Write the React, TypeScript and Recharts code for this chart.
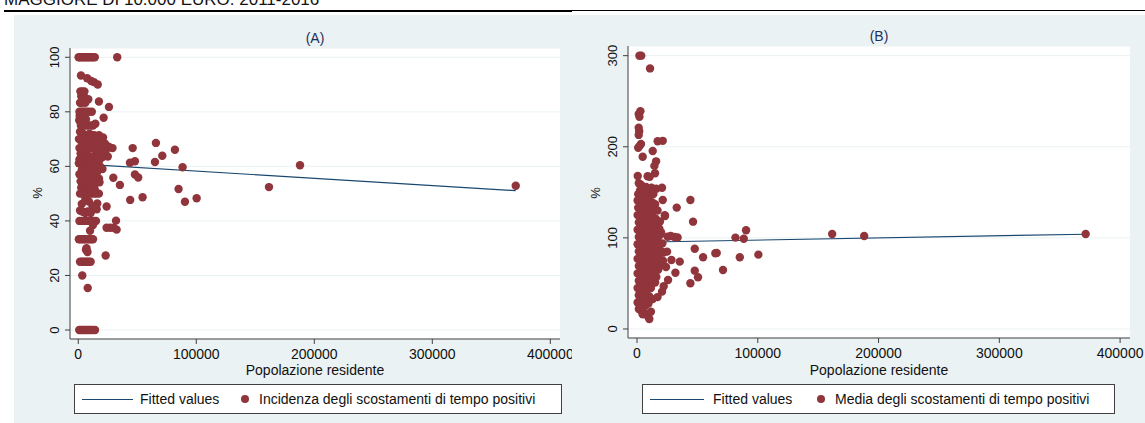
import React from 'react';
import { ScatterChart, Scatter, XAxis, YAxis, CartesianGrid } from 'recharts';

// ---- data ----
const popTicks = [0, 100000, 200000, 300000, 400000];
const ticksA = [0, 20, 40, 60, 80, 100];
const ticksB = [0, 100, 200, 300];

// fitted regression lines [popolazione, valore]
const fitA: [number, number][] = [[300, 60.9], [370700, 51.1]];
const fitB: [number, number][] = [[300, 95.2], [371500, 104.0]];

// (A) incidenza degli scostamenti di tempo positivi
const pointsA: [number, number][] = [
  [300, 100], [1500, 100], [2800, 100], [4200, 100], [5600, 100], [7000, 100], [8400, 100], [9800, 100], [11200, 100], [12600, 100], [14000, 100], [33000, 100],
  [2300, 93.3], [7500, 92.3], [11000, 91.3], [13200, 90.9], [16500, 90],
  [1800, 87.5], [3500, 87.5], [5200, 87.5], [2500, 85.7], [4800, 85.7],
  [1500, 83.3], [3200, 83.3], [6000, 83.3], [8500, 84.6], [17500, 83.8], [26000, 81.8],
  [1000, 80], [2500, 80], [4000, 80], [5500, 80], [7000, 80], [9000, 80], [11500, 80],
  [21500, 77.8], [1200, 78.6], [3000, 77.8], [6500, 77.3], [800, 76.9], [2200, 75], [4200, 75], [6200, 75], [8200, 75], [10500, 75], [12500, 75], [14500, 75.6],
  [1500, 72.7], [3500, 72.2], [5500, 71.4], [7500, 71.4], [9500, 72], [11500, 71.4], [13500, 71.4], [15500, 70.6], [17500, 71.4], [19500, 70], [21000, 70.6], [600, 70],
  [2500, 69.2], [4500, 68.8], [6500, 68.4], [8500, 69], [10500, 68.2], [12500, 69.2], [14500, 68.4], [16500, 67.9], [18500, 68.8], [20500, 68], [22500, 68.4], [24500, 67.5], [26500, 67], [29000, 66.7],
  [1000, 66.7], [3000, 66.7], [5000, 66.7], [7000, 66.7], [9000, 66.7], [11000, 66.7], [13000, 66.7], [15000, 66.7], [17000, 66.7], [23000, 65.5],
  [46100, 66.7], [65800, 68.6], [81900, 66.1], [71200, 63.9], [48000, 61.9], [43800, 61.3], [65000, 61.6], [88400, 59.7], [187900, 60.4],
  [2000, 64.7], [4000, 64.3], [6000, 64.3], [8000, 64], [10000, 63.6], [12000, 63.2], [14000, 64], [16000, 63.6], [18000, 64.5], [20000, 63.2], [25000, 63.6],
  [1000, 62.5], [3500, 62.5], [5500, 62.5], [7500, 62.5], [9500, 62.5], [11500, 62], [13500, 62.5], [15500, 62.5], [17500, 62],
  [500, 61.1], [2000, 61], [4500, 60], [6500, 60], [8500, 60], [10500, 60], [12500, 60.9], [14500, 60], [16500, 59.4], [18500, 60], [20500, 59],
  [3000, 58.8], [5500, 58.3], [7500, 58.3], [9500, 58.8], [11500, 57.9], [13500, 57.1], [16000, 57.9],
  [1000, 57.1], [3000, 56.3], [5000, 55.6], [7000, 55.6], [9000, 55.6], [11000, 56], [13000, 55], [15000, 54.5], [17500, 55.6],
  [48000, 57], [50800, 55.9], [29700, 55.8], [35300, 53.2],
  [2000, 54.5], [4000, 54.5], [6000, 53.8], [8000, 53.3], [10000, 53.3], [12000, 52.9], [14500, 53.8], [18000, 54.2],
  [85000, 51.7], [161600, 52.4], [370700, 52.9],
  [2500, 52.2], [5000, 51.7], [7500, 51.9], [11000, 52.6], [14000, 51.5],
  [1500, 50], [3500, 50], [5500, 50], [7500, 50], [9500, 50], [11500, 50], [13500, 50], [15500, 50], [17500, 50],
  [54500, 48.7], [44000, 47.7], [90400, 47], [100300, 48.3],
  [6000, 48], [16100, 46.4], [24000, 45.3], [3000, 46.2], [9000, 47.1], [12000, 45.5],
  [15600, 44.3], [1500, 43.8], [3000, 43.5], [4500, 43.3], [6000, 42.9], [8000, 43.5], [10500, 42.9],
  [1000, 40], [3000, 40], [5000, 40], [7000, 40], [9000, 40], [11000, 40], [13000, 40], [15000, 40], [32000, 40.1],
  [24000, 37.5], [27000, 37.5], [30000, 37.5], [32500, 36.8], [10000, 36.4], [12500, 38.5],
  [500, 33.3], [2000, 33.3], [3500, 33.3], [5000, 33.3], [6500, 33.3], [8000, 33.3], [9500, 33.3], [11000, 33.3], [12500, 33.3],
  [7000, 30], [7800, 28.6], [6500, 29.4], [23200, 27.3],
  [1500, 25], [3000, 25], [4500, 25], [6000, 25], [7500, 25], [9000, 25], [10500, 25],
  [3400, 20], [8000, 15.4],
  [800, 0], [2200, 0], [3600, 0], [5000, 0], [6400, 0], [7800, 0], [9200, 0], [10600, 0], [12000, 0], [14200, 0],
];

// (B) media degli scostamenti di tempo positivi
const pointsB: [number, number][] = [
  [2000, 300], [3500, 300], [10800, 286], [2800, 239], [1400, 236], [2000, 233], [1400, 221], [1800, 217], [1400, 213],
  [17100, 206], [21300, 206.5], [3300, 203], [1000, 199], [2200, 201], [13000, 195.4], [4700, 189], [15800, 184], [14400, 179], [14900, 171],
  [600, 168], [8800, 167.6], [10500, 167],
  [1500, 160], [3500, 158], [5000, 155], [7500, 156], [9500, 154], [12000, 155], [14000, 153], [16000, 154], [2500, 152], [20700, 155],
  [44200, 141.6], [21300, 141.6], [32900, 133.2], [23200, 124], [46400, 117.8], [18500, 110], [23000, 125],
  [1000, 148], [3000, 147], [5500, 149], [8000, 146], [11000, 147], [13500, 148],
  [500, 141], [2000, 139], [4000, 142], [6000, 138], [8500, 140], [10500, 141], [12500, 139], [15000, 137],
  [1000, 133], [3000, 131], [5000, 134], [7000, 130], [9000, 132], [11500, 133], [14000, 131], [17000, 130],
  [500, 125], [2500, 123], [4500, 126], [6500, 124], [9000, 122], [11000, 125], [13000, 123], [15500, 121],
  [1500, 117], [3500, 115], [5500, 118], [7500, 114], [10000, 116], [12000, 117], [14500, 115], [19000, 118],
  [500, 109], [2500, 107], [4500, 110], [7000, 106], [9000, 108], [11500, 109], [13500, 107], [16000, 105], [20000, 106],
  [1500, 101], [3500, 99], [5500, 102], [7500, 98], [10000, 100], [12000, 101], [14000, 99], [17000, 97], [19000, 103],
  [25400, 101.3], [28000, 102], [31000, 101], [33600, 100.5], [81500, 100.3], [88400, 99], [90300, 108.3],
  [161600, 104.3], [188100, 102], [371500, 104.3],
  [500, 93], [2500, 91], [4500, 94], [6500, 90], [9000, 92], [11000, 93], [13000, 91], [15500, 89], [18000, 92], [21000, 94],
  [1500, 85], [3500, 83], [5500, 86], [7500, 82], [10000, 84], [12000, 85], [14500, 83], [17000, 81], [19500, 86], [22000, 84], [24900, 84.9],
  [47800, 88.1], [64900, 83.1], [66000, 83.5], [100500, 81.6],
  [500, 77], [2500, 75], [4500, 78], [6500, 74], [9000, 76], [11000, 77], [13500, 75], [16000, 73], [18500, 77], [21500, 75],
  [28500, 75.7], [35400, 73.9], [54700, 78.7], [85100, 78.7],
  [1500, 69], [3500, 67], [5500, 70], [7500, 66], [10000, 68], [12000, 69], [14500, 67], [17500, 65], [20000, 70], [24000, 68],
  [500, 61], [2500, 59], [4500, 62], [6500, 58], [9000, 60], [11000, 61], [13500, 59], [16000, 57], [31800, 61.8],
  [47800, 64], [71200, 64.8], [50500, 56.7],
  [1500, 53], [3500, 51], [5500, 54], [7500, 50], [10000, 52], [12500, 53], [15000, 51], [25700, 53.8], [44200, 50.2],
  [500, 45], [2500, 43], [4500, 46], [6500, 42], [9000, 44], [11500, 45], [22100, 47], [20700, 41],
  [1500, 37], [3500, 35], [5500, 38], [7500, 34], [10000, 36], [13000, 32.8], [17000, 35],
  [500, 29], [2500, 27], [4500, 30], [7000, 26], [9500, 28],
  [1500, 22], [3500, 20], [6000, 18], [4700, 16], [10200, 11], [9000, 14], [11500, 19],
];

// ---- styling ----
const H = 423;
const BG = '#EAF2F3';
const MAROON = '#90353B';
const NAVY = '#1A476F';
const AXIS = '#404040';
const FONT = '"Liberation Sans", Arial, Helvetica, sans-serif';
const XAXIS_H = 40;
const YAXIS_W = 40;

const toRows = (pts: [number, number][]) => pts.map(([pop, val]) => ({ pop, val }));

const Dot = (props: any) => <circle cx={props.cx} cy={props.cy} r={4.2} fill={MAROON} />;
const NoDot = () => <g />;

const makeYTick = (baseX: number) => (props: any) => {
  const { y, payload } = props;
  return (
    <text
      x={baseX}
      y={y}
      transform={`rotate(-90 ${baseX} ${y})`}
      textAnchor="middle"
      fontSize={13}
      fontFamily={FONT}
      fill="#111"
    >
      {payload.value}
    </text>
  );
};

interface PanelProps {
  chartLeft: number;
  chartWidth: number;
  plot: { left: number; right: number; top: number; bottom: number };
  xDomain: [number, number];
  yDomain: [number, number];
  yTicks: number[];
  points: [number, number][];
  fit: [number, number][];
}

const Panel: React.FC<PanelProps> = ({ chartLeft, chartWidth, plot, xDomain, yDomain, yTicks, points, fit }) => {
  const margin = {
    top: plot.top,
    bottom: H - plot.bottom - XAXIS_H,
    left: plot.left - chartLeft - YAXIS_W,
    right: chartLeft + chartWidth - plot.right,
  };
  return (
    <div style={{ position: 'absolute', left: chartLeft, top: 0 }}>
      <ScatterChart width={chartWidth} height={H} margin={margin}>
        <CartesianGrid horizontal vertical={false} stroke={BG} fill="#ffffff" />
        <XAxis
          type="number"
          dataKey="pop"
          domain={xDomain}
          ticks={popTicks}
          allowDataOverflow
          interval={0}
          height={XAXIS_H}
          tickSize={5}
          tickMargin={5}
          stroke={AXIS}
          tick={{ fontSize: 14, fill: '#111', fontFamily: FONT }}
        />
        <YAxis
          type="number"
          dataKey="val"
          domain={yDomain}
          ticks={yTicks}
          allowDataOverflow
          interval={0}
          width={YAXIS_W}
          tickSize={5}
          stroke={AXIS}
          tick={makeYTick(plot.left - chartLeft - 11)}
        />
        <Scatter data={toRows(fit)} line={{ stroke: NAVY, strokeWidth: 1.2 }} shape={NoDot} isAnimationActive={false} />
        <Scatter data={toRows(points)} shape={Dot} isAnimationActive={false} />
      </ScatterChart>
    </div>
  );
};

interface LegendProps {
  left: number;
  width: number;
  lineW: number;
  text1X: number;
  dotX: number;
  text2X: number;
  label: string;
}

const LegendBox: React.FC<LegendProps> = ({ left, width, lineW, text1X, dotX, text2X, label }) => (
  <div
    style={{
      position: 'absolute', left, top: 384, width, height: 30, boxSizing: 'border-box',
      border: `1px solid ${AXIS}`, background: '#fff', fontFamily: FONT, fontSize: 14, color: '#111',
    }}
  >
    <div style={{ position: 'absolute', left: 7, top: 14, width: lineW, height: 1, background: NAVY }} />
    <span style={{ position: 'absolute', left: text1X, top: 6, lineHeight: '16px', whiteSpace: 'nowrap' }}>Fitted values</span>
    <div style={{ position: 'absolute', left: dotX - 4, top: 10, width: 8, height: 8, borderRadius: 4, background: MAROON }} />
    <span style={{ position: 'absolute', left: text2X, top: 6, lineHeight: '16px', whiteSpace: 'nowrap' }}>{label}</span>
  </div>
);

const abs = (style: React.CSSProperties): React.CSSProperties => ({ position: 'absolute', ...style });

export default function App() {
  return (
    <div style={{ position: 'absolute', left: 0, top: 0, width: 1145, height: H, overflow: 'hidden', background: '#fff', fontFamily: FONT }}>
      <div style={abs({ left: 4, top: -9, fontSize: 17, lineHeight: '17px', color: '#111', whiteSpace: 'nowrap' })}>
        MAGGIORE DI 10.000 EURO. 2011-2016
      </div>
      <div style={abs({ left: 4, top: 10, width: 568, height: 2, background: '#000' })} />
      <div style={abs({ left: 572, top: 10, width: 573, height: 1, background: '#000' })} />
      <div style={abs({ left: 14, top: 15, width: 1131, height: H - 15, background: BG })} />

      <Panel
        chartLeft={0}
        chartWidth={572}
        plot={{ left: 70, right: 560, top: 48, bottom: 339 }}
        xDomain={[-7000, 408200]}
        yDomain={[-3.3, 103.4]}
        yTicks={ticksA}
        points={pointsA}
        fit={fitA}
      />
      <Panel
        chartLeft={572}
        chartWidth={573}
        plot={{ left: 628, right: 1130, top: 46, bottom: 338 }}
        xDomain={[-7460, 408200]}
        yDomain={[-9.9, 310.6]}
        yTicks={ticksB}
        points={pointsB}
        fit={fitB}
      />

      <div style={abs({ left: 265, top: 30, width: 100, textAlign: 'center', fontSize: 14, lineHeight: '16px', color: '#1E2F5E' })}>(A)</div>
      <div style={abs({ left: 829, top: 28, width: 100, textAlign: 'center', fontSize: 14, lineHeight: '16px', color: '#1E2F5E' })}>(B)</div>

      <div style={abs({ left: 30, top: 185, width: 16, height: 16, textAlign: 'center', fontSize: 13, lineHeight: '16px', color: '#111', transform: 'rotate(-90deg)' })}>%</div>
      <div style={abs({ left: 588, top: 185, width: 16, height: 16, textAlign: 'center', fontSize: 13, lineHeight: '16px', color: '#111', transform: 'rotate(-90deg)' })}>%</div>

      <div style={abs({ left: 165, top: 362, width: 300, textAlign: 'center', fontSize: 14, lineHeight: '16px', color: '#111' })}>Popolazione residente</div>
      <div style={abs({ left: 729, top: 362, width: 300, textAlign: 'center', fontSize: 14, lineHeight: '16px', color: '#111' })}>Popolazione residente</div>

      <LegendBox left={74} width={488} lineW={51} text1X={65} dotX={170} text2X={184} label="Incidenza degli scostamenti di tempo positivi" />
      <LegendBox left={642} width={473} lineW={54} text1X={70} dotX={178} text2X={192} label="Media degli scostamenti di tempo positivi" />
    </div>
  );
}
